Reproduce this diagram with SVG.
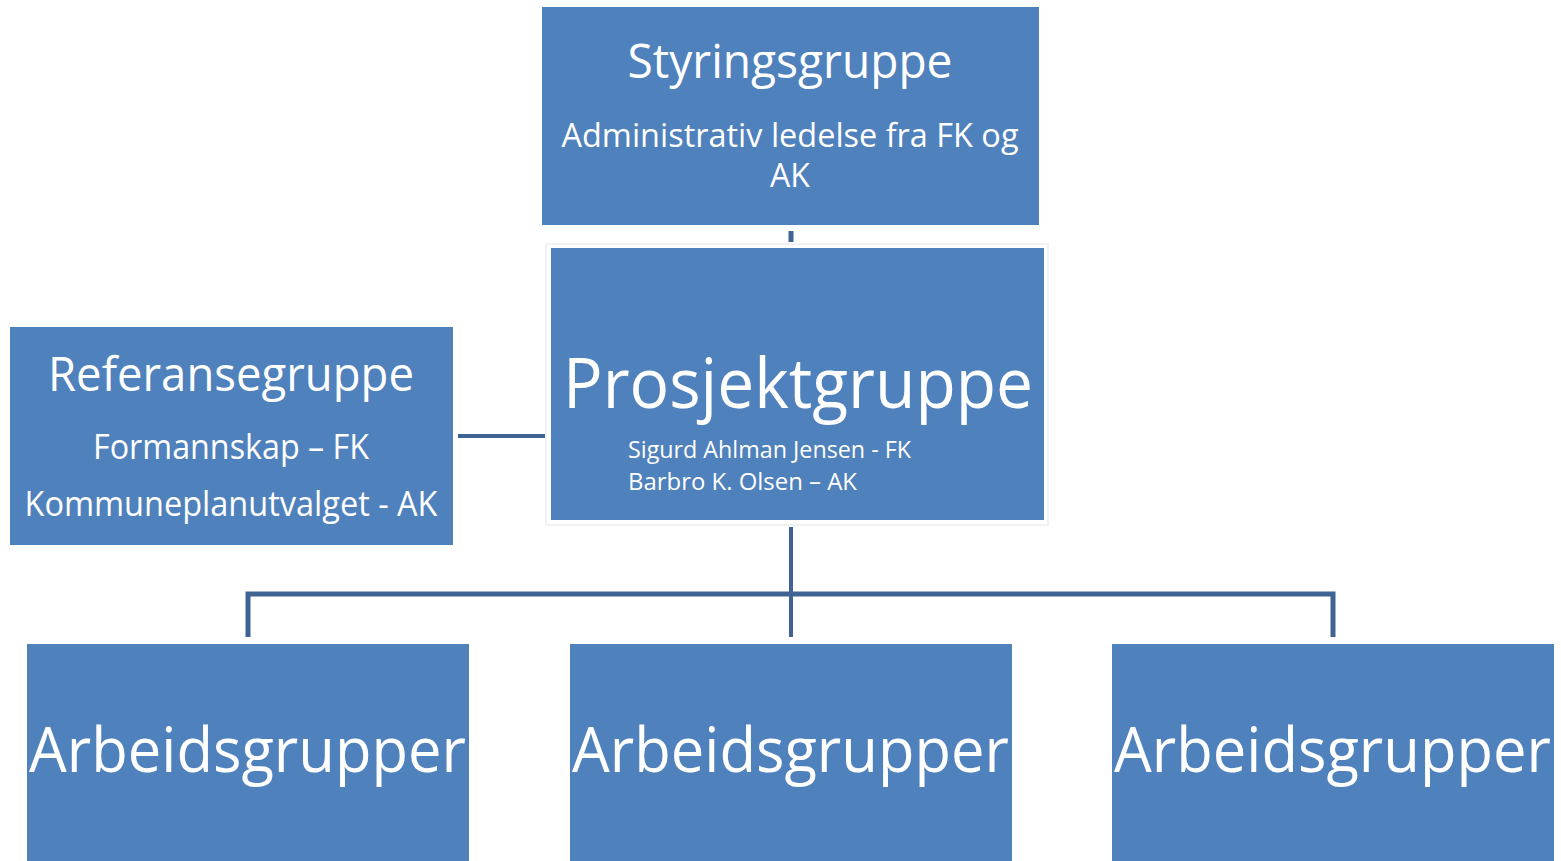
<svg xmlns="http://www.w3.org/2000/svg" width="1561" height="861" viewBox="0 0 1561 861">
<style>
.box{fill:#4F81BD}
.t{fill:#ffffff;font-family:"Open Sans","Liberation Sans",sans-serif}
.c{stroke:#3F6494;fill:none}
</style>
<rect width="1561" height="861" fill="#ffffff"/>
<g id="connectors">
<line class="c" x1="791" y1="231" x2="791" y2="242" stroke-width="5"/>
<line class="c" x1="458" y1="436" x2="546" y2="436" stroke-width="4"/>
<line class="c" x1="791" y1="527" x2="791" y2="637" stroke-width="4"/>
<polyline class="c" points="248,637 248,594 1333,594 1333,637" stroke-width="5"/>
</g>
<g id="styringsgruppe">
<rect class="box" x="542" y="7" width="497" height="218"/>
<text class="t" x="790" y="78" font-size="47" text-anchor="middle" textLength="325" lengthAdjust="spacingAndGlyphs">Styringsgruppe</text>
<text class="t" x="790" y="147" font-size="32" text-anchor="middle" textLength="457" lengthAdjust="spacingAndGlyphs">Administrativ ledelse fra FK og</text>
<text class="t" x="790" y="187" font-size="32" text-anchor="middle">AK</text>
</g>
<g id="prosjektgruppe">
<rect x="546" y="244" width="502" height="281" fill="#ffffff" stroke="#f0f2f5" stroke-width="2"/>
<rect class="box" x="551" y="248" width="493" height="272"/>
<text class="t" x="563" y="408" font-size="70" textLength="470" lengthAdjust="spacingAndGlyphs">Prosjektgruppe</text>
<text class="t" x="628" y="458" font-size="23" textLength="283" lengthAdjust="spacingAndGlyphs">Sigurd Ahlman Jensen - FK</text>
<text class="t" x="628" y="490" font-size="23" textLength="229" lengthAdjust="spacingAndGlyphs">Barbro K. Olsen –  AK</text>
</g>
<g id="referansegruppe">
<rect class="box" x="10" y="327" width="443" height="218"/>
<text class="t" x="231" y="391" font-size="47" text-anchor="middle" textLength="366" lengthAdjust="spacingAndGlyphs">Referansegruppe</text>
<text class="t" x="231" y="459" font-size="34" text-anchor="middle" textLength="276" lengthAdjust="spacingAndGlyphs">Formannskap – FK</text>
<text class="t" x="231" y="516" font-size="34" text-anchor="middle" textLength="413" lengthAdjust="spacingAndGlyphs">Kommuneplanutvalget - AK</text>
</g>
<g id="arbeidsgrupper1">
<rect class="box" x="27" y="644" width="442" height="217"/>
<text class="t" x="29" y="772" font-size="63" textLength="437" lengthAdjust="spacingAndGlyphs">Arbeidsgrupper</text>
</g>
<g id="arbeidsgrupper2">
<rect class="box" x="570" y="644" width="442" height="217"/>
<text class="t" x="572" y="772" font-size="63" textLength="437" lengthAdjust="spacingAndGlyphs">Arbeidsgrupper</text>
</g>
<g id="arbeidsgrupper3">
<rect class="box" x="1112" y="644" width="442" height="217"/>
<text class="t" x="1114" y="772" font-size="63" textLength="437" lengthAdjust="spacingAndGlyphs">Arbeidsgrupper</text>
</g>
</svg>
